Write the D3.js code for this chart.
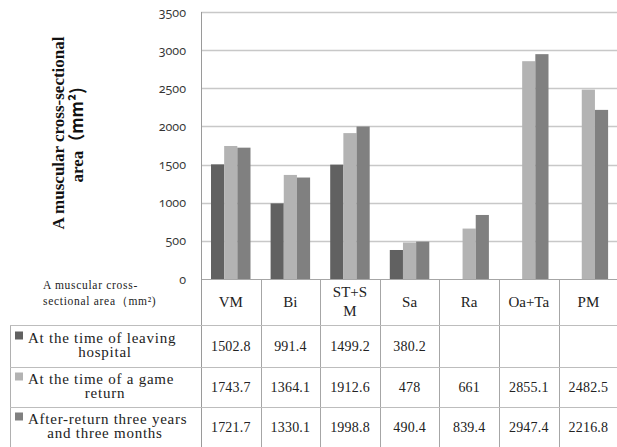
<!DOCTYPE html>
<html>
<head>
<meta charset="utf-8">
<script src="https://cdn.jsdelivr.net/npm/d3@7"></script>
<style>
  html, body { margin: 0; padding: 0; background: #fff; }
  svg { display: block; }
</style>
</head>
<body>
<svg id="chart" width="617" height="447"></svg>
<script>
// ---------- data ----------
const categories = ["VM", "Bi", "ST+SM", "Sa", "Ra", "Oa+Ta", "PM"];
const categoryLabels = ["VM", "Bi", "ST+S\nM", "Sa", "Ra", "Oa+Ta", "PM"];
const seriesNames = [
  "At the time of leaving\nhospital",
  "At the time of a game\nreturn",
  "After-return three years\nand three months"
];
const leavingHospital = [1502.8, 991.4, 1499.2, 380.2, null, null, null];
const gameReturn = [1743.7, 1364.1, 1912.6, 478, 661, 2855.1, 2482.5];
const afterThreeYears = [1721.7, 1330.1, 1998.8, 490.4, 839.4, 2947.4, 2216.8];
const yTicks = [0, 500, 1000, 1500, 2000, 2500, 3000, 3500];
const seriesColors = ["#616161", "#b3b3b3", "#808080"];
const yTitleLine1 = "A muscular cross-sectional";
const yTitleLine2a = "area";
const yTitleLine2b = "（mm²)";
const cornerLine1 = "A muscular cross-";
const cornerLine2 = "sectional area（mm²)";

const seriesValues = [leavingHospital, gameReturn, afterThreeYears];

// ---------- layout ----------
const svg = d3.select("#chart");
const plotLeft = 201, plotRight = 618.2, plotTop = 12, plotBottom = 279;
const tableLeft = 10;
const rowEdges = [279, 325, 367, 407, 447];

const x0 = d3.scaleBand().domain(categories).range([plotLeft, plotRight]).padding(0);
const x1 = d3.scaleBand().domain(d3.range(3)).range([10, 49.5]).padding(0);
const y = d3.scaleLinear().domain([0, 3500]).range([plotBottom, plotTop]);

// gridlines
svg.append("g").selectAll("line").data(yTicks).join("line")
  .attr("x1", plotLeft).attr("x2", 617)
  .attr("y1", d => Math.round(y(d)) + 0.5).attr("y2", d => Math.round(y(d)) + 0.5)
  .attr("stroke", d => d === 0 ? "#a6a6a6" : "#c8c8c8")
  .attr("stroke-width", d => d === 0 ? 1 : 1.6);

// y tick labels
svg.append("g").selectAll("text").data(yTicks).join("text")
  .attr("x", 186).attr("y", d => y(d) + 4.5)
  .attr("text-anchor", "end")
  .attr("font-family", "'Open Sans', sans-serif")
  .attr("font-size", 12.5)
  .style("font-variant-numeric", "oldstyle-nums")
  .attr("fill", "#333")
  .text(d => d);

// bars
const barData = [];
categories.forEach((c, i) => {
  seriesValues.forEach((arr, s) => {
    if (arr[i] != null) barData.push({ c, s, v: arr[i] });
  });
});
svg.append("g").selectAll("rect").data(barData).join("rect")
  .attr("x", d => x0(d.c) + x1(d.s))
  .attr("width", x1.bandwidth())
  .attr("y", d => y(d.v))
  .attr("height", d => y(0) - y(d.v))
  .attr("fill", d => seriesColors[d.s]);

// y axis line (extends through the table)
svg.append("line")
  .attr("x1", plotLeft + 0.5).attr("x2", plotLeft + 0.5)
  .attr("y1", plotTop).attr("y2", 447)
  .attr("stroke", "#9a9a9a").attr("stroke-width", 1);

// ---------- table ----------
const tbl = svg.append("g");
const bounds = categories.map(c => x0(c)).slice(1);
tbl.selectAll("line.v").data(bounds).join("line")
  .attr("class", "v")
  .attr("x1", d => Math.round(d) + 0.5).attr("x2", d => Math.round(d) + 0.5)
  .attr("y1", plotBottom).attr("y2", 447)
  .attr("stroke", "#a6a6a6");
tbl.append("line")
  .attr("x1", tableLeft + 0.5).attr("x2", tableLeft + 0.5)
  .attr("y1", rowEdges[1]).attr("y2", 447)
  .attr("stroke", "#b0b0b0");
tbl.selectAll("line.h").data(rowEdges.slice(1, 4)).join("line")
  .attr("class", "h")
  .attr("x1", tableLeft).attr("x2", 617)
  .attr("y1", d => d + 0.5).attr("y2", d => d + 0.5)
  .attr("stroke", "#bdbdbd");

const serif = "'Liberation Serif', 'Times New Roman', serif";
categoryLabels.forEach((lab, i) => {
  const lines = lab.split("\n");
  const cx = x0(categories[i]) + x0.bandwidth() / 2;
  const mid = (rowEdges[0] + rowEdges[1]) / 2;
  const t = tbl.append("text")
    .attr("text-anchor", "middle")
    .attr("font-family", serif).attr("font-size", 15).attr("fill", "#222");
  if (lines.length === 1) {
    t.append("tspan").attr("x", cx).attr("y", mid + 5).text(lines[0]);
  } else {
    t.append("tspan").attr("x", cx).attr("y", mid - 5).text(lines[0]);
    t.append("tspan").attr("x", cx).attr("y", mid + 14).text(lines[1]);
  }
});

// corner label
const corner = tbl.append("text")
  .attr("font-family", serif).attr("font-size", 11.5).attr("fill", "#222")
  .style("letter-spacing", "0.7px");
corner.append("tspan").attr("x", 43).attr("y", 289).text(cornerLine1);
corner.append("tspan").attr("x", 43).attr("y", 305).text(cornerLine2);

// row labels with swatches
seriesNames.forEach((name, s) => {
  const lines = name.split("\n");
  const mid = (rowEdges[s + 1] + rowEdges[s + 2]) / 2;
  tbl.append("rect")
    .attr("x", 15).attr("y", mid - 3.5 - 11)
    .attr("width", 8).attr("height", 8)
    .attr("fill", seriesColors[s]);
  tbl.append("text")
    .attr("font-family", serif).attr("font-size", 15).attr("fill", "#222")
    .style("letter-spacing", "0.75px")
    .attr("x", 28).attr("y", mid - 3.5).text(lines[0]);
  tbl.append("text")
    .attr("font-family", serif).attr("font-size", 15).attr("fill", "#222")
    .style("letter-spacing", "0.75px")
    .attr("text-anchor", "middle")
    .attr("x", 105).attr("y", mid + 11).text(lines[1]);

  categories.forEach((c, i) => {
    const v = seriesValues[s][i];
    if (v == null) return;
    tbl.append("text")
      .attr("x", x0(c) + x0.bandwidth() / 2).attr("y", mid + 5)
      .attr("text-anchor", "middle")
      .attr("font-family", serif).attr("font-size", 14).attr("fill", "#222")
      .style("letter-spacing", "0.2px")
      .text(v);
  });
});

// ---------- y axis title ----------
svg.append("text")
  .attr("transform", "translate(64,133) rotate(-90)")
  .attr("text-anchor", "middle")
  .attr("font-family", serif).attr("font-weight", "bold").attr("font-size", 17)
  .attr("fill", "#111")
  .text(yTitleLine1);
const tg2 = svg.append("text")
  .attr("transform", "translate(83,135) rotate(-90)")
  .attr("text-anchor", "middle")
  .attr("font-weight", "bold").attr("font-size", 17).attr("fill", "#111");
tg2.append("tspan").attr("font-family", serif).text(yTitleLine2a);
tg2.append("tspan").attr("font-family", "'Noto Sans CJK JP', 'DejaVu Sans', sans-serif").text(yTitleLine2b);
</script>
</body>
</html>
